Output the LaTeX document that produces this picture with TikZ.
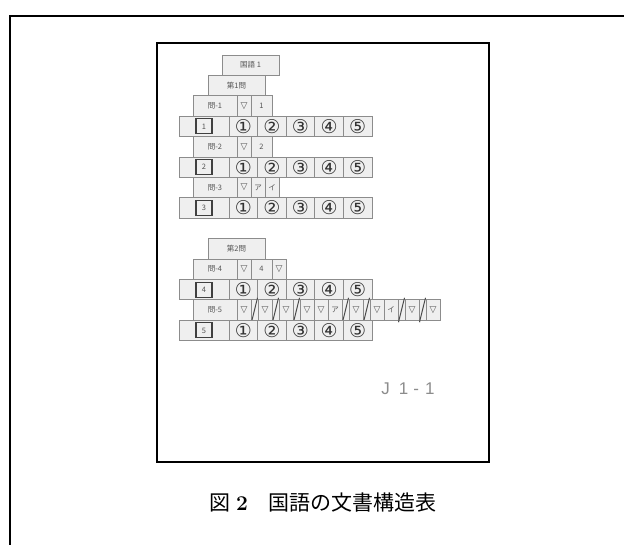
\documentclass[tikz,border=0pt]{standalone}
\usepackage{fontspec}
\newfontfamily\jpf{Noto Sans CJK JP}
\newfontfamily\dvf{DejaVu Sans}
\newfontfamily\handf{Liberation Sans}
\definecolor{cellfill}{HTML}{EFEFEF}
\definecolor{cellline}{HTML}{8C8C8C}
\definecolor{celltext}{HTML}{555555}
\definecolor{circtext}{HTML}{333333}
\newcommand{\ansrow}[3]{%
  \node[cell, minimum width=50pt] (#1-0) at (179,#2) {};
  \node[numbox] (#1-b) at (#1-0.center) {#3};
  \node[cell, circ, minimum width=28.6pt] (#1-1) at (229,#2) {①};
  \node[cell, circ, minimum width=28.6pt] (#1-2) at (257.6,#2) {②};
  \node[cell, circ, minimum width=28.6pt] (#1-3) at (286.2,#2) {③};
  \node[cell, circ, minimum width=28.6pt] (#1-4) at (314.8,#2) {④};
  \node[cell, circ, minimum width=28.6pt] (#1-5) at (343.4,#2) {⑤};
}
\begin{document}
\begin{tikzpicture}[x=1pt,y=-1pt,
  cell/.style={draw=cellline, fill=cellfill, line width=0.8pt, anchor=north west,
    minimum height=20.4pt, inner sep=0pt, outer sep=0pt,
    font=\jpf\fontsize{7.5}{7.5}\selectfont, text=celltext},
  circ/.style={font=\dvf\fontsize{19}{19}\selectfont, text=circtext},
  tri/.style={font=\dvf\fontsize{9}{9}\selectfont},
  numbox/.style={draw=black!75, fill=cellfill, line width=1.1pt, minimum width=16pt,
    minimum height=15pt, inner sep=0pt, font=\jpf\fontsize{7.5}{7.5}\selectfont, text=celltext},
  slashcell/.style={cell, minimum width=7pt},
  slash/.style={draw=black!70, line width=1pt},
  frame/.style={draw=black, line width=2pt}]
\useasboundingbox (0,0) rectangle (624,545);
% outer frame
\draw[frame, line cap=rect] (10,545) -- (10,16) -- (624,16);
% inner frame
\draw[frame] (157,43) rectangle (489,462);
% group 1
\node[cell, minimum width=57pt] (kokugo) at (222,55) {国語 1};
\node[cell, minimum width=57pt] (dai1) at (208,75.4) {第1問};
\node[cell, minimum width=44pt] (q1) at (193,95.8) {問-1};
\node[cell, tri, minimum width=14pt] (q1t) at (237,95.8) {▽};
\node[cell, minimum width=21pt] (q1n) at (251,95.8) {1};
\ansrow{a1}{116.2}{1}
\node[cell, minimum width=44pt] (q2) at (193,136.6) {問-2};
\node[cell, tri, minimum width=14pt] (q2t) at (237,136.6) {▽};
\node[cell, minimum width=21pt] (q2n) at (251,136.6) {2};
\ansrow{a2}{157.0}{2}
\node[cell, minimum width=44pt] (q3) at (193,177.4) {問-3};
\node[cell, tri, minimum width=14pt] (q3t) at (237,177.4) {▽};
\node[cell, minimum width=14pt] (q3a) at (251,177.4) {ア};
\node[cell, minimum width=14pt] (q3i) at (265,177.4) {イ};
\ansrow{a3}{197.8}{3}
% group 2
\node[cell, minimum width=57pt] (dai2) at (208,238.6) {第2問};
\node[cell, minimum width=44pt] (q4) at (193,259.0) {問-4};
\node[cell, tri, minimum width=14pt] (q4t) at (237,259.0) {▽};
\node[cell, minimum width=21pt] (q4n) at (251,259.0) {4};
\node[cell, tri, minimum width=14pt] (q4u) at (272,259.0) {▽};
\ansrow{a4}{279.4}{4}
\node[cell, minimum width=44pt] (q5) at (193,299.8) {問-5};
\node[cell, tri, minimum width=14pt] (c1) at (237,299.8) {▽};
\node[slashcell] (s1) at (251,299.8) {};
\node[cell, tri, minimum width=14pt] (c2) at (258,299.8) {▽};
\node[slashcell] (s2) at (272,299.8) {};
\node[cell, tri, minimum width=14pt] (c3) at (279,299.8) {▽};
\node[slashcell] (s3) at (293,299.8) {};
\node[cell, tri, minimum width=14pt] (c4) at (300,299.8) {▽};
\node[cell, tri, minimum width=14pt] (c5) at (314,299.8) {▽};
\node[cell, minimum width=14pt] (c6) at (328,299.8) {ア};
\node[slashcell] (s4) at (342,299.8) {};
\node[cell, tri, minimum width=14pt] (c7) at (349,299.8) {▽};
\node[slashcell] (s5) at (363,299.8) {};
\node[cell, tri, minimum width=14pt] (c8) at (370,299.8) {▽};
\node[cell, minimum width=14pt] (c9) at (384,299.8) {イ};
\node[slashcell] (s6) at (398,299.8) {};
\node[cell, tri, minimum width=14pt] (c10) at (405,299.8) {▽};
\node[slashcell] (s7) at (419,299.8) {};
\node[cell, tri, minimum width=14pt] (c11) at (426,299.8) {▽};
\foreach \s in {s1,s2,s3,s4,s5,s6,s7}{
  \draw[slash] ([xshift=0.5pt,yshift=-2pt]\s.south west) -- ([xshift=-0.5pt,yshift=2pt]\s.north east);
}
\ansrow{a5}{320.2}{5}
% handwritten mark
\node[text=black!45, font=\handf\fontsize{17}{17}\selectfont, inner sep=0pt] (mark) at (408,389)
  {J\hspace{9pt}1\hspace{5pt}-\hspace{6pt}1};
% caption
\node[font=\jpf\fontsize{21}{21}\selectfont, inner sep=0pt] (caption) at (323,503)
  {図\hspace{6pt}{\rmfamily\bfseries 2}\hspace{21pt}国語の文書構造表};
\end{tikzpicture}
\end{document}
